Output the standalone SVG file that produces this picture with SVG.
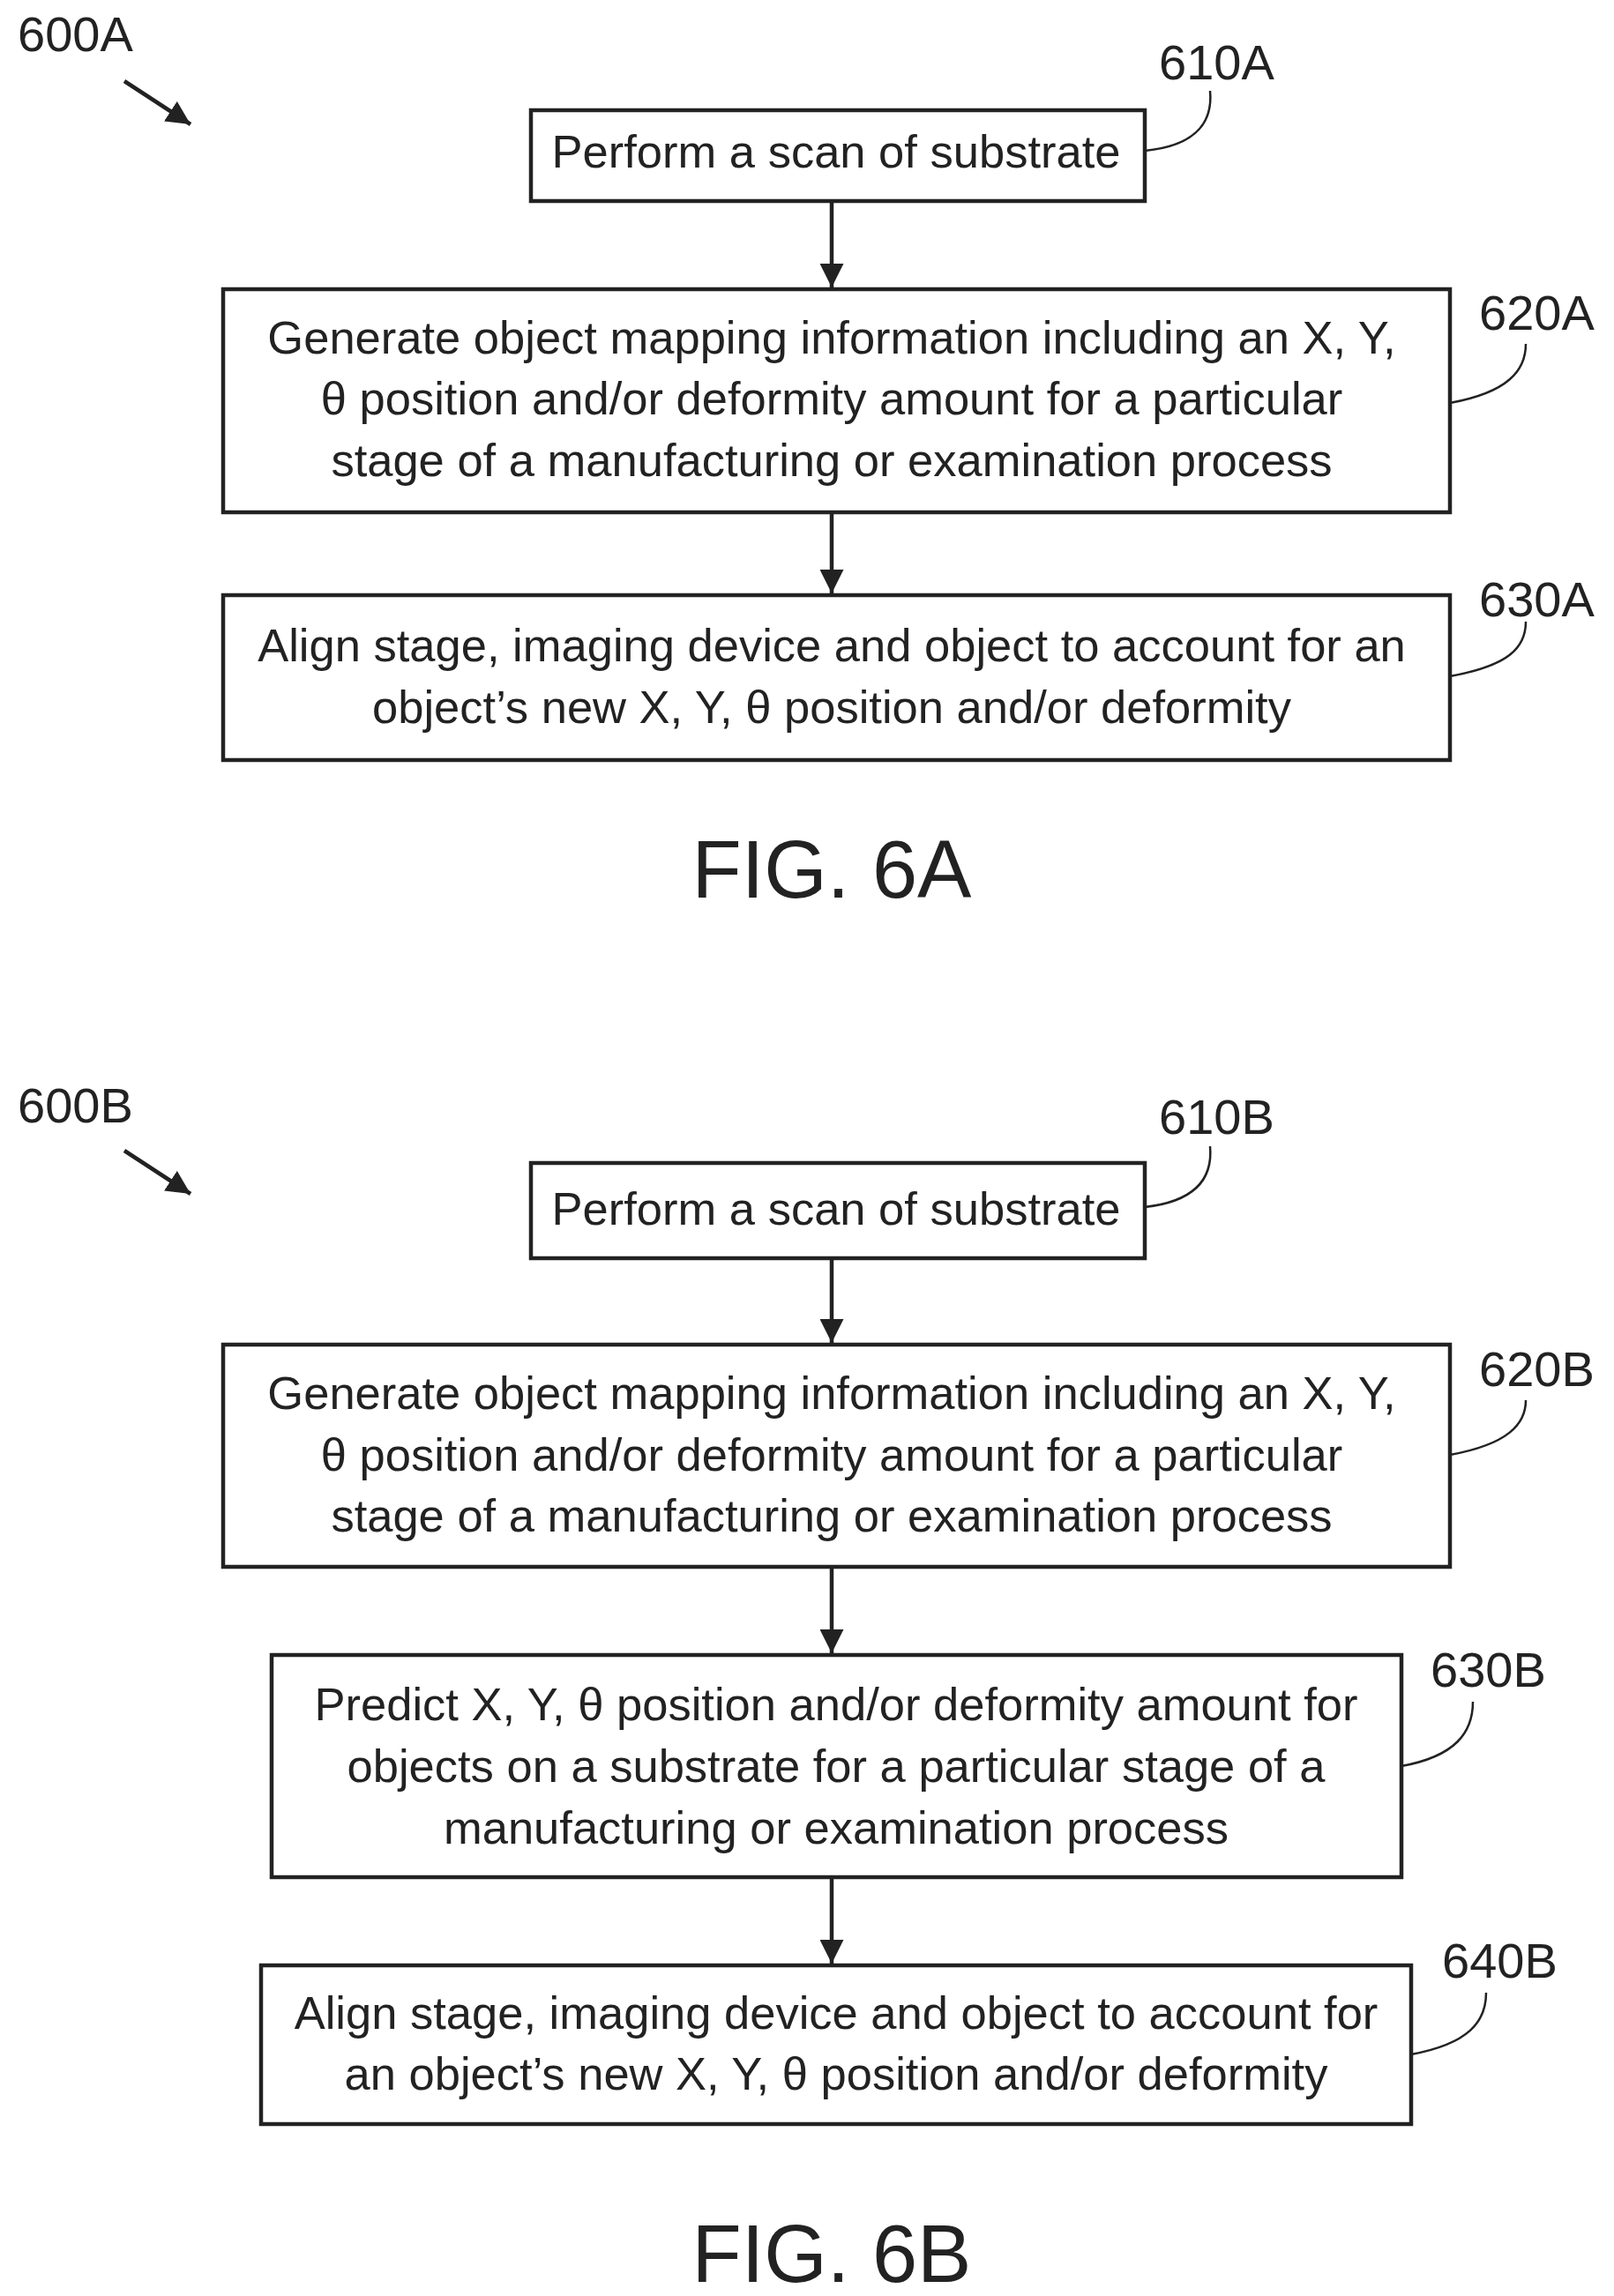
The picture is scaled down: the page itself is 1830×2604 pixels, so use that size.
<svg xmlns="http://www.w3.org/2000/svg" width="1830" height="2604" viewBox="0 0 1830 2604">
<style>
.box{fill:#fff;stroke:#222;stroke-width:4.5}
.t{font-family:"Liberation Sans",Arial,sans-serif;font-size:52.5px;fill:#222;text-anchor:middle}
.lbl{font-family:"Liberation Sans",Arial,sans-serif;font-size:56px;fill:#222}
.fig{font-family:"Liberation Sans",Arial,sans-serif;font-size:92px;fill:#222;text-anchor:middle}
.c{fill:none;stroke:#222;stroke-width:4.5}
.ld{fill:none;stroke:#222;stroke-width:2.5}
</style>
<defs>
<marker id="ah" viewBox="0 0 10 10" refX="10" refY="5" markerWidth="6" markerHeight="6" orient="auto" markerUnits="strokeWidth"><path d="M0,0 L10,5 L0,10 z" fill="#222"/></marker>
</defs>
<rect width="1830" height="2604" fill="#fff"/>
<g id="connectors">
<line class="c" x1="943" y1="228" x2="943" y2="326" marker-end="url(#ah)"/>
<line class="c" x1="943" y1="581" x2="943" y2="673" marker-end="url(#ah)"/>
<line class="c" x1="943" y1="1427" x2="943" y2="1523" marker-end="url(#ah)"/>
<line class="c" x1="943" y1="1777" x2="943" y2="1875" marker-end="url(#ah)"/>
<line class="c" x1="943" y1="2129" x2="943" y2="2227" marker-end="url(#ah)"/>
<line class="c" x1="141" y1="92" x2="216" y2="141" marker-end="url(#ah)"/>
<line class="c" x1="141" y1="1305" x2="216" y2="1354" marker-end="url(#ah)"/>
<path class="ld" d="M1298,171 C1360,165 1375,135 1372,103"/>
<path class="ld" d="M1644,457 C1710,445 1730,420 1730,390"/>
<path class="ld" d="M1644,767 C1710,755 1730,735 1730,705"/>
<path class="ld" d="M1298,1369 C1360,1362 1375,1333 1372,1300"/>
<path class="ld" d="M1644,1650 C1710,1638 1730,1615 1730,1588"/>
<path class="ld" d="M1589,2003 C1650,1992 1670,1965 1670,1930"/>
<path class="ld" d="M1600,2330 C1665,2318 1685,2293 1685,2260"/>
</g>
<g id="label600A"><text class="lbl" x="20" y="58">600A</text></g>
<g id="n610A"><rect class="box" x="602" y="125" width="696" height="103"/><text class="t" x="948" y="190">Perform a scan of substrate</text><text class="lbl" x="1314" y="90">610A</text></g>
<g id="n620A"><rect class="box" x="253" y="328" width="1391" height="253"/><text class="t" x="943" y="401">Generate object mapping information including an X, Y,</text><text class="t" x="943" y="470">θ position and/or deformity amount for a particular</text><text class="t" x="943" y="540">stage of a manufacturing or examination process</text><text class="lbl" x="1677" y="374">620A</text></g>
<g id="n630A"><rect class="box" x="253" y="675" width="1391" height="187"/><text class="t" x="943" y="750">Align stage, imaging device and object to account for an</text><text class="t" x="943" y="820">object’s new X, Y, θ position and/or deformity</text><text class="lbl" x="1677" y="699">630A</text></g>
<g id="fig6A"><text class="fig" x="943" y="1018">FIG. 6A</text></g>
<g id="label600B"><text class="lbl" x="20" y="1273">600B</text></g>
<g id="n610B"><rect class="box" x="602" y="1319" width="696" height="108"/><text class="t" x="948" y="1389">Perform a scan of substrate</text><text class="lbl" x="1314" y="1286">610B</text></g>
<g id="n620B"><rect class="box" x="253" y="1525" width="1391" height="252"/><text class="t" x="943" y="1598">Generate object mapping information including an X, Y,</text><text class="t" x="943" y="1668">θ position and/or deformity amount for a particular</text><text class="t" x="943" y="1737">stage of a manufacturing or examination process</text><text class="lbl" x="1677" y="1572">620B</text></g>
<g id="n630B"><rect class="box" x="308" y="1877" width="1281" height="252"/><text class="t" x="948" y="1951">Predict X, Y, θ position and/or deformity amount for</text><text class="t" x="948" y="2021">objects on a substrate for a particular stage of a</text><text class="t" x="948" y="2091">manufacturing or examination process</text><text class="lbl" x="1622" y="1913">630B</text></g>
<g id="n640B"><rect class="box" x="296" y="2229" width="1304" height="180"/><text class="t" x="948" y="2301">Align stage, imaging device and object to account for</text><text class="t" x="948" y="2370">an object’s new X, Y, θ position and/or deformity</text><text class="lbl" x="1635" y="2243">640B</text></g>
<g id="fig6B"><text class="fig" x="943" y="2588">FIG. 6B</text></g>
</svg>
